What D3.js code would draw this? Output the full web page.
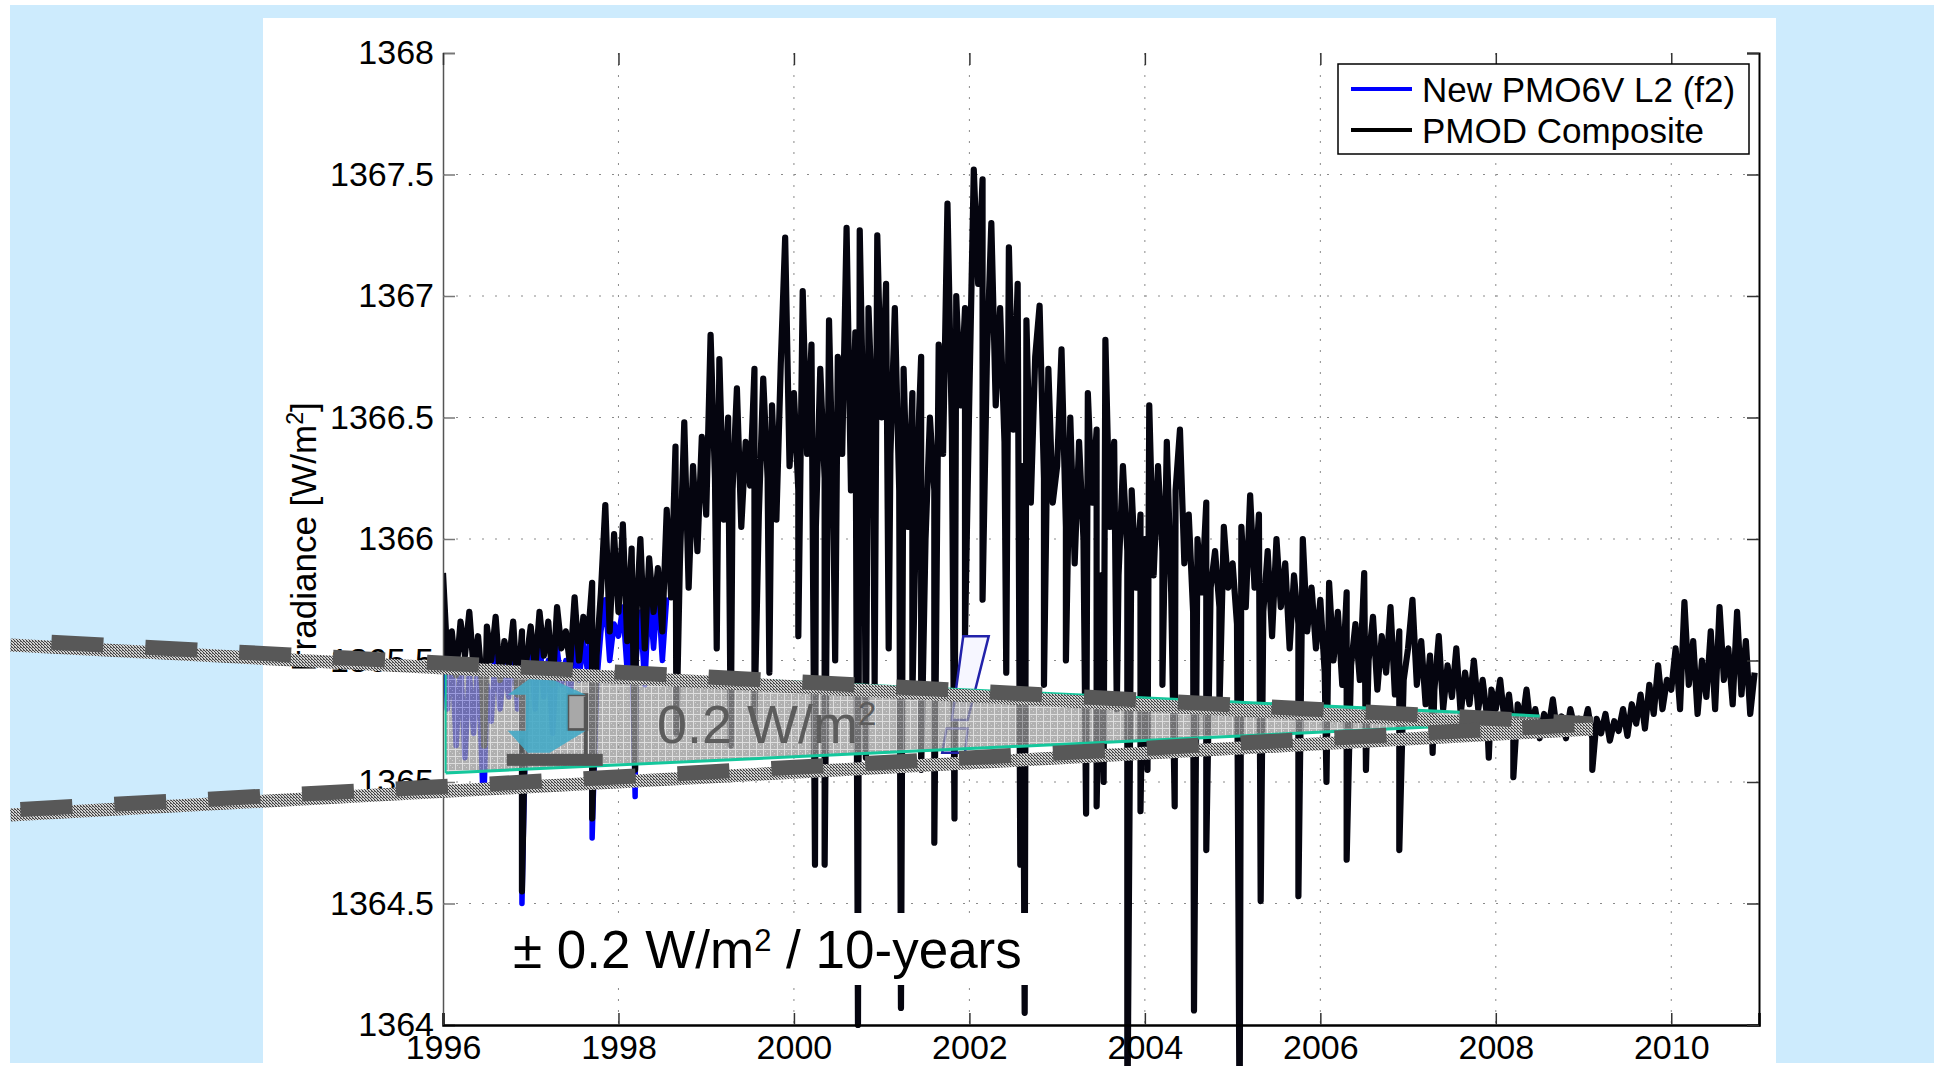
<!DOCTYPE html>
<html>
<head>
<meta charset="utf-8">
<script src="https://cdn.jsdelivr.net/npm/d3@7/dist/d3.min.js"></script>
<style>
  html, body { margin:0; padding:0; background:#fff; }
  svg { display:block; font-family:"Liberation Sans", Arial, Helvetica, sans-serif; }
</style>
</head>
<body>
<div id="chart"></div>
<script>
var width = 1934, height = 1066;
var plot = {left:443, right:1759, top:53, bottom:1025};

// PMOD composite, 20 samples per year
var samplesPerYear = 20;
var pmod1996 = [1365.86,1365.50,1365.62,1365.44,1365.66,1365.52,1365.70,1365.46,1365.60,1365.38,1365.64,1365.50,1365.68,1365.42,1365.58,1365.48,1365.66,1365.36,1365.62,1365.50];
var pmod1997 = [1365.64,1365.46,1365.70,1365.52,1365.66,1365.40,1365.72,1365.55,1365.62,1365.48,1365.76,1365.50,1365.68,1365.58,1365.82,1365.52,1365.78,1366.14,1365.62,1366.02];
var pmod1998 = [1365.70,1366.06,1365.58,1365.96,1365.66,1366.00,1365.55,1365.92,1365.70,1365.88,1365.62,1366.12,1365.76,1366.38,1365.90,1366.48,1365.80,1366.30,1365.95,1366.42];
var pmod1999 = [1366.10,1366.84,1366.25,1366.74,1366.08,1366.50,1366.20,1366.62,1366.05,1366.40,1366.22,1366.70,1366.10,1366.66,1366.25,1366.55,1366.08,1366.72,1367.24,1366.30];
var pmod2000 = [1366.60,1366.20,1367.02,1366.35,1366.80,1366.05,1366.70,1366.25,1366.90,1366.10,1366.75,1366.35,1367.28,1366.20,1366.85,1367.27,1366.30,1366.95,1366.45,1367.25];
var pmod2001 = [1366.50,1367.05,1366.35,1366.95,1366.20,1366.70,1366.05,1366.60,1366.25,1366.75,1366.00,1366.50,1366.20,1366.80,1366.35,1367.38,1366.45,1367.00,1366.55,1366.95];
var pmod2002 = [1366.60,1367.52,1367.05,1367.48,1366.75,1367.30,1366.55,1366.95,1366.40,1367.20,1366.45,1367.05,1366.30,1366.90,1366.15,1366.75,1366.96,1366.25,1366.70,1366.15];
var pmod2003 = [1366.30,1366.78,1366.05,1366.50,1365.90,1366.40,1366.00,1366.60,1366.15,1366.45,1365.85,1366.82,1366.05,1366.40,1365.85,1366.30,1365.95,1366.20,1365.80,1366.10];
var pmod2004 = [1366.00,1366.55,1365.85,1366.30,1365.95,1366.40,1365.78,1366.20,1366.45,1365.90,1366.10,1365.70,1366.00,1365.78,1366.15,1365.80,1365.95,1365.72,1366.05,1365.80];
var pmod2005 = [1365.90,1365.65,1366.05,1365.72,1366.18,1365.80,1366.10,1365.70,1365.95,1365.60,1366.00,1365.72,1365.90,1365.55,1365.85,1365.65,1366.00,1365.62,1365.80,1365.55];
var pmod2006 = [1365.75,1365.45,1365.82,1365.50,1365.70,1365.40,1365.78,1365.48,1365.65,1365.42,1365.86,1365.50,1365.68,1365.38,1365.60,1365.45,1365.72,1365.36,1365.62,1365.42];
var pmod2007 = [1365.55,1365.75,1365.40,1365.58,1365.32,1365.52,1365.38,1365.60,1365.30,1365.48,1365.35,1365.55,1365.28,1365.45,1365.32,1365.50,1365.30,1365.42,1365.27,1365.38];
var pmod2008 = [1365.30,1365.42,1365.25,1365.36,1365.20,1365.32,1365.24,1365.38,1365.22,1365.30,1365.18,1365.28,1365.22,1365.34,1365.20,1365.27,1365.18,1365.30,1365.22,1365.26];
var pmod2009 = [1365.22,1365.30,1365.18,1365.26,1365.20,1365.28,1365.17,1365.25,1365.21,1365.30,1365.19,1365.32,1365.24,1365.36,1365.22,1365.40,1365.28,1365.48,1365.30,1365.42];
var pmod2010 = [1365.38,1365.55,1365.30,1365.74,1365.40,1365.58,1365.28,1365.50,1365.35,1365.62,1365.30,1365.72,1365.42,1365.55,1365.32,1365.70,1365.36,1365.58,1365.28,1365.45];
// single-day dips (sunspot transits)
var pmodDipYears  = [1996.47,1996.90,1997.70,1998.19,1998.66,1999.12,1999.28,1999.55,1999.72,2000.05,2000.24,2000.35,2000.47,2000.73,2000.82,2000.92,2001.08,2001.22,2001.35,2001.45,2001.60,2001.83,2001.95,2002.15,2002.42,2002.58,2002.63,2002.85,2003.10,2003.33,2003.45,2003.53,2003.68,2003.80,2003.95,2004.03,2004.20,2004.34,2004.56,2004.70,2004.85,2005.08,2005.32,2005.75,2006.07,2006.30,2006.52,2006.90,2007.28,2007.92,2008.20,2009.10];
var pmodDipValues = [1365.15,1364.55,1364.85,1365.05,1365.20,1365.55,1365.15,1365.25,1365.45,1365.60,1364.66,1364.66,1365.50,1364.00,1365.10,1365.40,1365.55,1364.07,1365.35,1365.05,1364.75,1364.85,1365.60,1365.75,1365.45,1364.66,1364.05,1365.40,1365.50,1364.87,1364.90,1365.00,1365.30,1363.55,1364.88,1365.05,1365.40,1364.90,1364.06,1364.72,1365.30,1363.55,1364.51,1364.53,1365.00,1364.68,1365.05,1364.72,1365.12,1365.10,1365.02,1365.05];

// New PMO6V L2 (f2), only visible where it departs from the composite
var pmo1996 = [1365.80,1365.30,1365.55,1365.15,1365.50,1365.10,1365.45,1365.20,1365.52,1365.00,1365.40,1365.25,1365.55,1365.30,1365.48,1365.35,1365.60,1365.30,1365.50,1365.40];
var pmo1997 = [1365.55,1365.30,1365.60,1365.35,1365.50,1365.20,1365.55,1365.40,1365.50,1365.35,1365.60,1365.42,1365.58,1365.45,1365.70,1365.40,1365.62,1365.75,1365.50,1365.65];
var pmo1998 = [1365.60,1365.72,1365.45,1365.65,1365.50,1365.70,1365.40,1365.78,1365.55,1365.80,1365.50,1365.76];
var pmoDipYears  = [1996.47,1996.90,1997.70,1998.19];
var pmoDipValues = [1364.97,1364.50,1364.77,1364.94];

var yearTicks = [1996,1998,2000,2002,2004,2006,2008,2010];
var irrTicks = [1364,1364.5,1365,1365.5,1366,1366.5,1367,1367.5,1368];
var legendLabels = ['New PMO6V L2 (f2)', 'PMOD Composite'];
var legendColors = ['#0000ff', '#000000'];

// overlay annotation, in data units
var trendUpper = [[1991.07,1365.584],[2009.105,1365.239]];
var trendLower = [[1991.07,1364.885],[2009.105,1365.239]];
var wedge = [[1996.03,1365.477],[2008.5,1365.272],[2008.5,1365.247],[1996.03,1365.037]];
var breakTop = [[2001.93,1365.60],[2002.22,1365.60],[2001.98,1365.255],[2001.80,1365.255]];
var breakBottom = [[2001.74,1365.22],[2001.98,1365.22],[2001.95,1365.12],[2001.69,1365.12]];
var arrowAt = {t:1997.08, top:1365.45, bottom:1365.12};

function buildSeries(yearArrays, firstYear, dipYears, dipValues) {
  var pts = [];
  yearArrays.forEach(function(arr, k) {
    arr.forEach(function(v, i) {
      pts.push({t: firstYear + k + i / samplesPerYear, v: v});
    });
  });
  dipYears.forEach(function(t, i) { pts.push({t: t, v: dipValues[i]}); });
  pts.sort(function(a, b) { return a.t - b.t; });
  return pts;
}

var pmodSeries = buildSeries([pmod1996,pmod1997,pmod1998,pmod1999,pmod2000,pmod2001,pmod2002,pmod2003,pmod2004,pmod2005,pmod2006,pmod2007,pmod2008,pmod2009,pmod2010], 1996, pmodDipYears, pmodDipValues);
var pmoSeries = buildSeries([pmo1996,pmo1997,pmo1998], 1996, pmoDipYears, pmoDipValues);

var xScale = d3.scaleLinear().domain([1996, 2011]).range([plot.left, plot.right]);
var yScale = d3.scaleLinear().domain([1364, 1368]).range([plot.bottom, plot.top]);

var svg = d3.select('#chart').append('svg')
  .attr('width', width)
  .attr('height', height);

var defs = svg.append('defs');
// the lines are not clipped at the bottom in the original figure
defs.append('clipPath').attr('id', 'plotClip')
  .append('rect')
  .attr('x', plot.left).attr('y', plot.top)
  .attr('width', plot.right - plot.left).attr('height', height - plot.top);

var wedgePat = defs.append('pattern').attr('id', 'wedgeFill')
  .attr('patternUnits', 'userSpaceOnUse').attr('width', 7).attr('height', 7);
wedgePat.append('rect').attr('width', 7).attr('height', 7).attr('fill', '#959595');
wedgePat.append('rect').attr('x', 2).attr('y', 2).attr('width', 1).attr('height', 1).attr('fill', '#c4c4c4');
wedgePat.append('rect').attr('x', 4).attr('y', 4).attr('width', 1).attr('height', 1).attr('fill', '#c4c4c4');
wedgePat.append('path').attr('d', 'M0,0.5H7M0.5,0V7').attr('stroke', '#d2d2d2').attr('stroke-width', 1);

var dotPat = defs.append('pattern').attr('id', 'dots')
  .attr('patternUnits', 'userSpaceOnUse').attr('width', 3).attr('height', 3);
dotPat.append('rect').attr('width', 3).attr('height', 3).attr('fill', '#d0d0d0');
dotPat.append('rect').attr('width', 1).attr('height', 1).attr('fill', '#404040');
dotPat.append('rect').attr('x', 1).attr('y', 1).attr('width', 1).attr('height', 1).attr('fill', '#404040');
dotPat.append('rect').attr('x', 2).attr('y', 2).attr('width', 1).attr('height', 1).attr('fill', '#404040');
dotPat.append('rect').attr('x', 2).attr('y', 0).attr('width', 1).attr('height', 1).attr('fill', '#707070');

// slide background
svg.append('rect').attr('width', width).attr('height', height).attr('fill', '#fff');
svg.append('rect').attr('x', 10).attr('y', 5).attr('width', width - 10).attr('height', 1058).attr('fill', '#cdebfd');
svg.append('rect').attr('x', 263).attr('y', 18).attr('width', 1513).attr('height', height - 18).attr('fill', '#fff');

// grid
svg.append('g').selectAll('line').data(yearTicks.slice(1)).enter().append('line')
  .attr('x1', function(d) { return xScale(d); }).attr('x2', function(d) { return xScale(d); })
  .attr('y1', plot.top).attr('y2', plot.bottom)
  .attr('stroke', '#8a8a8a').attr('stroke-width', 1).attr('stroke-dasharray', '2,9');
svg.append('g').selectAll('line').data(irrTicks.slice(1, -1)).enter().append('line')
  .attr('x1', plot.left).attr('x2', plot.right)
  .attr('y1', function(d) { return yScale(d); }).attr('y2', function(d) { return yScale(d); })
  .attr('stroke', '#8a8a8a').attr('stroke-width', 1).attr('stroke-dasharray', '2,11');

// series
var line = d3.line()
  .x(function(d) { return xScale(d.t); })
  .y(function(d) { return yScale(d.v); });

var series = svg.append('g').attr('clip-path', 'url(#plotClip)');
series.append('path').datum(pmoSeries)
  .attr('d', line).attr('fill', 'none')
  .attr('stroke', legendColors[0]).attr('stroke-width', 5.5).attr('stroke-linejoin', 'round');
series.append('path').datum(pmodSeries)
  .attr('d', line).attr('fill', 'none')
  .attr('stroke', '#05050f').attr('stroke-width', 6.2).attr('stroke-linejoin', 'round');

// axes
var fontSize = 34;
var yAxis = d3.axisLeft(yScale).tickValues(irrTicks).tickSize(-12).tickPadding(9)
  .tickFormat(function(d) { return String(d); });
var xAxis = d3.axisBottom(xScale).tickValues(yearTicks).tickSize(-12).tickPadding(10)
  .tickFormat(d3.format('d'));

var gy = svg.append('g').attr('transform', 'translate(' + plot.left + ',0)').call(yAxis);
gy.select('.domain').attr('stroke', '#555').attr('stroke-width', 1.5);
gy.selectAll('.tick line').attr('stroke', '#777').attr('stroke-width', 1.5);
gy.selectAll('text').attr('font-size', fontSize).attr('font-family', null).attr('fill', '#000');

var gx = svg.append('g').attr('transform', 'translate(0,' + plot.bottom + ')').call(xAxis);
gx.select('.domain').attr('stroke', '#000').attr('stroke-width', 2.5);
gx.selectAll('.tick line').attr('stroke', '#333').attr('stroke-width', 1.5);
gx.selectAll('text').attr('font-size', fontSize).attr('font-family', null).attr('fill', '#000').attr('dy', '0.72em');

var gr = svg.append('g').attr('transform', 'translate(' + plot.right + ',0)')
  .call(d3.axisRight(yScale).tickValues(irrTicks).tickSize(-12).tickFormat(''));
gr.select('.domain').attr('stroke', '#000').attr('stroke-width', 2);
gr.selectAll('.tick line').attr('stroke', '#333').attr('stroke-width', 1.5);

var gt = svg.append('g').attr('transform', 'translate(0,' + plot.top + ')')
  .call(d3.axisTop(xScale).tickValues(yearTicks).tickSize(-12).tickFormat(''));
gt.select('.domain').remove();
gt.selectAll('.tick line').attr('stroke', '#333').attr('stroke-width', 1.5);

var ylab = svg.append('text')
  .attr('transform', 'translate(316,537) rotate(-90)')
  .attr('text-anchor', 'middle')
  .attr('font-size', 35);
ylab.append('tspan').text('Irradiance [W/m');
ylab.append('tspan').attr('baseline-shift', 'super').attr('font-size', 23).text('2');
ylab.append('tspan').attr('baseline-shift', 'baseline').text(']');

// blue break mark (under the wedge)
var poly = function(pts) {
  return 'M' + pts.map(function(p) { return xScale(p[0]) + ',' + yScale(p[1]); }).join('L') + 'Z';
};
svg.append('path').attr('d', poly(breakTop))
  .attr('fill', '#f6f6ff').attr('stroke', '#2222aa').attr('stroke-width', 2.5);
svg.append('path').attr('d', poly(breakBottom))
  .attr('fill', 'none').attr('stroke', '#2222aa').attr('stroke-width', 2.5);

// uncertainty wedge
svg.append('path').attr('d', poly(wedge))
  .attr('fill', 'url(#wedgeFill)').attr('fill-opacity', 0.74);
var edge = function(a, b, w) {
  svg.append('path')
    .attr('d', 'M' + xScale(a[0]) + ',' + yScale(a[1]) + 'L' + xScale(b[0]) + ',' + yScale(b[1]))
    .attr('stroke', '#14c79c').attr('stroke-width', w);
};
edge(wedge[0], wedge[1], 3);
edge(wedge[3], wedge[2], 3);
edge(wedge[3], wedge[0], 2);

// double arrow icon
var ax = xScale(arrowAt.t), aTop = yScale(arrowAt.top), aBot = yScale(arrowAt.bottom);
var icon = svg.append('g');
icon.append('rect').attr('x', ax + 30).attr('y', aTop + 22).attr('width', 19).attr('height', 35)
  .attr('fill', '#a8a8a8').attr('stroke', '#555').attr('stroke-width', 3);
icon.append('rect').attr('x', ax + 46).attr('y', aTop + 24).attr('width', 4).attr('height', aBot - aTop - 22).attr('fill', '#555');
icon.append('rect').attr('x', ax - 18).attr('y', aBot - 14).attr('width', 4).attr('height', 14).attr('fill', '#555');
icon.append('path')
  .attr('d', 'M' + ax + ',' + aTop +
    'L' + (ax + 48) + ',' + (aTop + 22) + 'L' + (ax + 30) + ',' + (aTop + 22) +
    'L' + (ax + 30) + ',' + (aBot - 22) + 'L' + (ax + 48) + ',' + (aBot - 22) +
    'L' + (ax + 12) + ',' + aBot + 'L' + (ax - 10) + ',' + aBot +
    'L' + (ax - 30) + ',' + (aBot - 22) + 'L' + (ax - 12) + ',' + (aBot - 22) +
    'L' + (ax - 12) + ',' + (aTop + 22) + 'L' + (ax - 30) + ',' + (aTop + 22) + 'Z')
  .attr('fill', '#45aac6').attr('fill-opacity', 0.9);
icon.append('rect').attr('x', ax - 31).attr('y', aBot + 1).attr('width', 96).attr('height', 12).attr('fill', '#555');

svg.append('text')
  .attr('x', 657).attr('y', 743)
  .attr('font-size', 54).attr('fill', '#5c5c5c')
  .text('0.2 W/m')
  .append('tspan').attr('baseline-shift', 'super').attr('font-size', 33).text('2');

// dashed trend lines
var trendLine = d3.line()
  .x(function(d) { return xScale(d[0]); })
  .y(function(d) { return yScale(d[1]); });
[[trendUpper, 53], [trendLower, 84]].forEach(function(tl) {
  svg.append('path').datum(tl[0]).attr('d', trendLine)
    .attr('transform', 'translate(0,5)')
    .attr('stroke', 'url(#dots)').attr('stroke-width', 13).attr('fill', 'none');
  svg.append('path').datum(tl[0]).attr('d', trendLine)
    .attr('stroke', '#585858').attr('stroke-width', 15).attr('fill', 'none')
    .attr('stroke-dasharray', '52,42').attr('stroke-dashoffset', tl[1]);
});

// rate label
svg.append('rect').attr('x', 505).attr('y', 913).attr('width', 525).attr('height', 72).attr('fill', '#fff');
var rate = svg.append('text')
  .attr('x', 513).attr('y', 968)
  .attr('font-size', 53).attr('fill', '#000');
rate.append('tspan').text('\u00b1 0.2 W/m');
rate.append('tspan').attr('baseline-shift', 'super').attr('font-size', 31).text('2');
rate.append('tspan').attr('baseline-shift', 'baseline').text(' / 10-years');

// legend
var legend = svg.append('g').attr('transform', 'translate(1338,64)');
legend.append('rect').attr('width', 411).attr('height', 90)
  .attr('fill', '#fff').attr('stroke', '#000').attr('stroke-width', 1.5);
var items = legend.selectAll('.legend-item').data(legendLabels).enter().append('g')
  .attr('class', 'legend-item')
  .attr('transform', function(d, i) { return 'translate(0,' + (25 + i * 41) + ')'; });
items.append('line').attr('x1', 13).attr('x2', 74)
  .attr('stroke', function(d, i) { return legendColors[i]; }).attr('stroke-width', 4);
items.append('text').attr('x', 84).attr('dy', '0.36em')
  .attr('font-size', 35).text(function(d) { return d; });
</script>
</body>
</html>
